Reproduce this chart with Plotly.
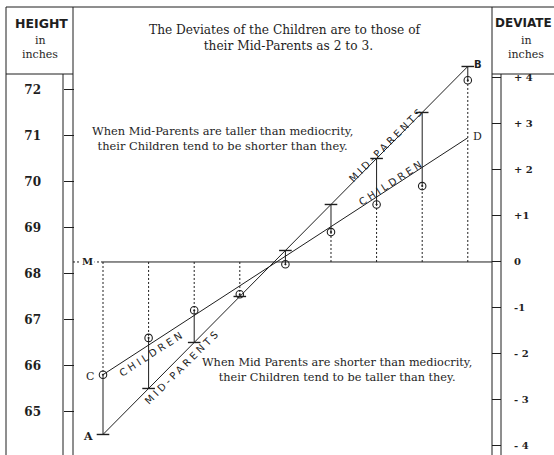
import plotly.graph_objects as go

# ---- data ----
midparent = [64.5, 65.5, 66.5, 67.5, 68.5, 69.5, 70.5, 71.5, 72.5]
children = [65.8, 66.6, 67.2, 67.55, 68.2, 68.9, 69.5, 69.9, 72.2]
mediocrity = 68.25
children_line_x = [64.5, 72.5]
children_line_y = [65.8, 70.95]
height_ticks = [65, 66, 67, 68, 69, 70, 71, 72]
height_ticktext = ["65", "66", "67", "68", "69", "70", "71", "72"]
deviate_ticks = [-4, -3, -2, -1, 0, 1, 2, 3, 4]
deviate_ticktext = ["- 4", "- 3", "- 2", "-1", "0", "+1", "+ 2", "+ 3", "+ 4"]

W, H = 554, 455
INK = "#1e1e1e"
SERIF = "DejaVu Serif"
SANS = "DejaVu Sans"

def px(xp):
    return xp / W

def py(yp):
    return 1 - yp / H

xrange_ = [63.842, 73.031]
yrange_ = [64.054, 73.793]

fig = go.Figure()

# mid-parents line A-B
fig.add_trace(go.Scatter(x=[midparent[0], midparent[-1]], y=[midparent[0], midparent[-1]],
                         mode="lines", line=dict(color=INK, width=1), hoverinfo="skip"))
# children line C-D
fig.add_trace(go.Scatter(x=children_line_x, y=children_line_y,
                         mode="lines", line=dict(color=INK, width=1), hoverinfo="skip"))

# solid verticals between mid-parent and children
sx, sy = [], []
for m, c in zip(midparent, children):
    sx += [m, m, None]
    sy += [m, c, None]
fig.add_trace(go.Scatter(x=sx, y=sy, mode="lines", line=dict(color=INK, width=1), hoverinfo="skip"))

# dotted verticals from mediocrity line to children
dx, dy = [], []
for m, c in zip(midparent, children):
    if (m - mediocrity) * (c - mediocrity) > 0:
        dx += [m, m, None]
        dy += [mediocrity, c, None]
fig.add_trace(go.Scatter(x=dx, y=dy, mode="lines",
                         line=dict(color=INK, width=1, dash="2px,2px"), hoverinfo="skip"))

# mediocrity line (deviate 0) on the deviate axis
fig.add_trace(go.Scatter(x=[midparent[0], xrange_[1]], y=[0, 0], yaxis="y2", mode="lines",
                         line=dict(color=INK, width=1), hoverinfo="skip"))
fig.add_trace(go.Scatter(x=[xrange_[0], midparent[0]], y=[0, 0], yaxis="y2", mode="lines",
                         line=dict(color=INK, width=1, dash="2px,2px"), hoverinfo="skip"))

# mid-parent tick marks
fig.add_trace(go.Scatter(x=midparent, y=midparent, mode="markers",
                         marker=dict(symbol="line-ew", size=9, line=dict(color=INK, width=1.4)),
                         hoverinfo="skip"))
# children circles
fig.add_trace(go.Scatter(x=midparent, y=children, mode="markers",
                         marker=dict(symbol="circle-open-dot", size=7.5, color=INK,
                                     line=dict(color=INK, width=1.1)),
                         hoverinfo="skip"))

# frame shapes
frame = [
    (6, 7, 554, 7), (6, 7, 6, 455), (6, 74, 73, 74), (63, 74, 63, 455),
    (73, 7, 73, 455), (492, 7, 492, 455), (501, 74, 501, 455), (492, 74, 554, 74),
]
for x0, y0, x1, y1 in frame:
    fig.add_shape(type="line", xref="paper", yref="paper", x0=px(x0), y0=py(y0), x1=px(x1), y1=py(y1),
                  line=dict(color=INK, width=1))

ann = []
def text(x, y, t, size, font=SERIF, xref="paper", yref="paper", angle=0, xanchor="center", bg=None, color=INK):
    d = dict(x=x, y=y, xref=xref, yref=yref, text=t, showarrow=False, textangle=angle,
             font=dict(family=font, size=size, color=color), xanchor=xanchor, yanchor="middle")
    if bg:
        d["bgcolor"] = bg
    ann.append(d)

# headers
text(px(41), py(23), "<b>HEIGHT</b>", 12.5, SANS)
text(px(40), py(40), "in", 11)
text(px(40), py(54), "inches", 11)
text(px(523.5), py(23), "<b>DEVIATE</b>", 12, SANS)
text(px(526), py(40), "in", 11)
text(px(526), py(54), "inches", 11)

# title
text(px(285), py(38), "The Deviates of the Children are to those of<br>  their Mid-Parents as 2 to 3.", 12.2)

# notes
text(px(222), py(138), "When Mid-Parents are taller than mediocrity,<br>their Children tend to be shorter than they.", 11.4)
text(px(337), py(370), "When Mid Parents are shorter than mediocrity,<br>their Children tend to be taller than they.", 11.3)

# line labels
ls = '<span style="letter-spacing:3px">%s</span>'
text(70.72, 70.8, ls % "MID-PARENTS", 10, SANS, "x", "y", -45)
text(70.83, 69.97, ls % "CHILDREN", 10, SANS, "x", "y", -33)
text(65.57, 66.27, ls % "CHILDREN", 10, SANS, "x", "y", -33)
text(66.25, 65.97, ls % "MID-PARENTS", 10, SANS, "x", "y", -45)

# point letters
text(64.17, 64.45, "<b>A</b>", 11, SERIF, "x", "y")
text(64.21, 65.77, "C", 11, SERIF, "x", "y")
text(72.72, 72.55, "<b>B</b>", 10, SANS, "x", "y")
text(72.72, 70.97, "D", 11, SERIF, "x", "y")
text(64.17, mediocrity, "<b>M</b>", 10, SERIF, "x", "y", bg="white")

fig.update_layout(
    width=W, height=H, margin=dict(l=0, r=0, t=0, b=0),
    paper_bgcolor="white", plot_bgcolor="white", showlegend=False,
    annotations=ann,
    xaxis=dict(domain=[px(73), px(492)], range=xrange_, visible=False, fixedrange=True),
    yaxis=dict(domain=[0, py(7)], range=yrange_, anchor="free", position=px(63), side="left",
               ticks="inside", ticklen=10, tickwidth=1, tickcolor=INK,
               tickvals=height_ticks, ticktext=height_ticktext, ticklabelstandoff=22,
               tickfont=dict(family=SERIF, size=12, color=INK, weight="bold"),
               showgrid=False, zeroline=False, showline=False),
    yaxis2=dict(domain=[0, py(7)], range=[yrange_[0] - mediocrity, yrange_[1] - mediocrity],
                overlaying="y", anchor="free", position=px(501), side="right",
                ticks="inside", ticklen=9, tickwidth=1, tickcolor=INK,
                tickvals=deviate_ticks, ticktext=deviate_ticktext, ticklabelstandoff=12,
                tickfont=dict(family=SERIF, size=10, color=INK, weight="bold"),
                showgrid=False, zeroline=False, showline=False),
)

fig.write_html("out.html", config={"displayModeBar": False},
               post_script="document.body.style.margin='0px';")
